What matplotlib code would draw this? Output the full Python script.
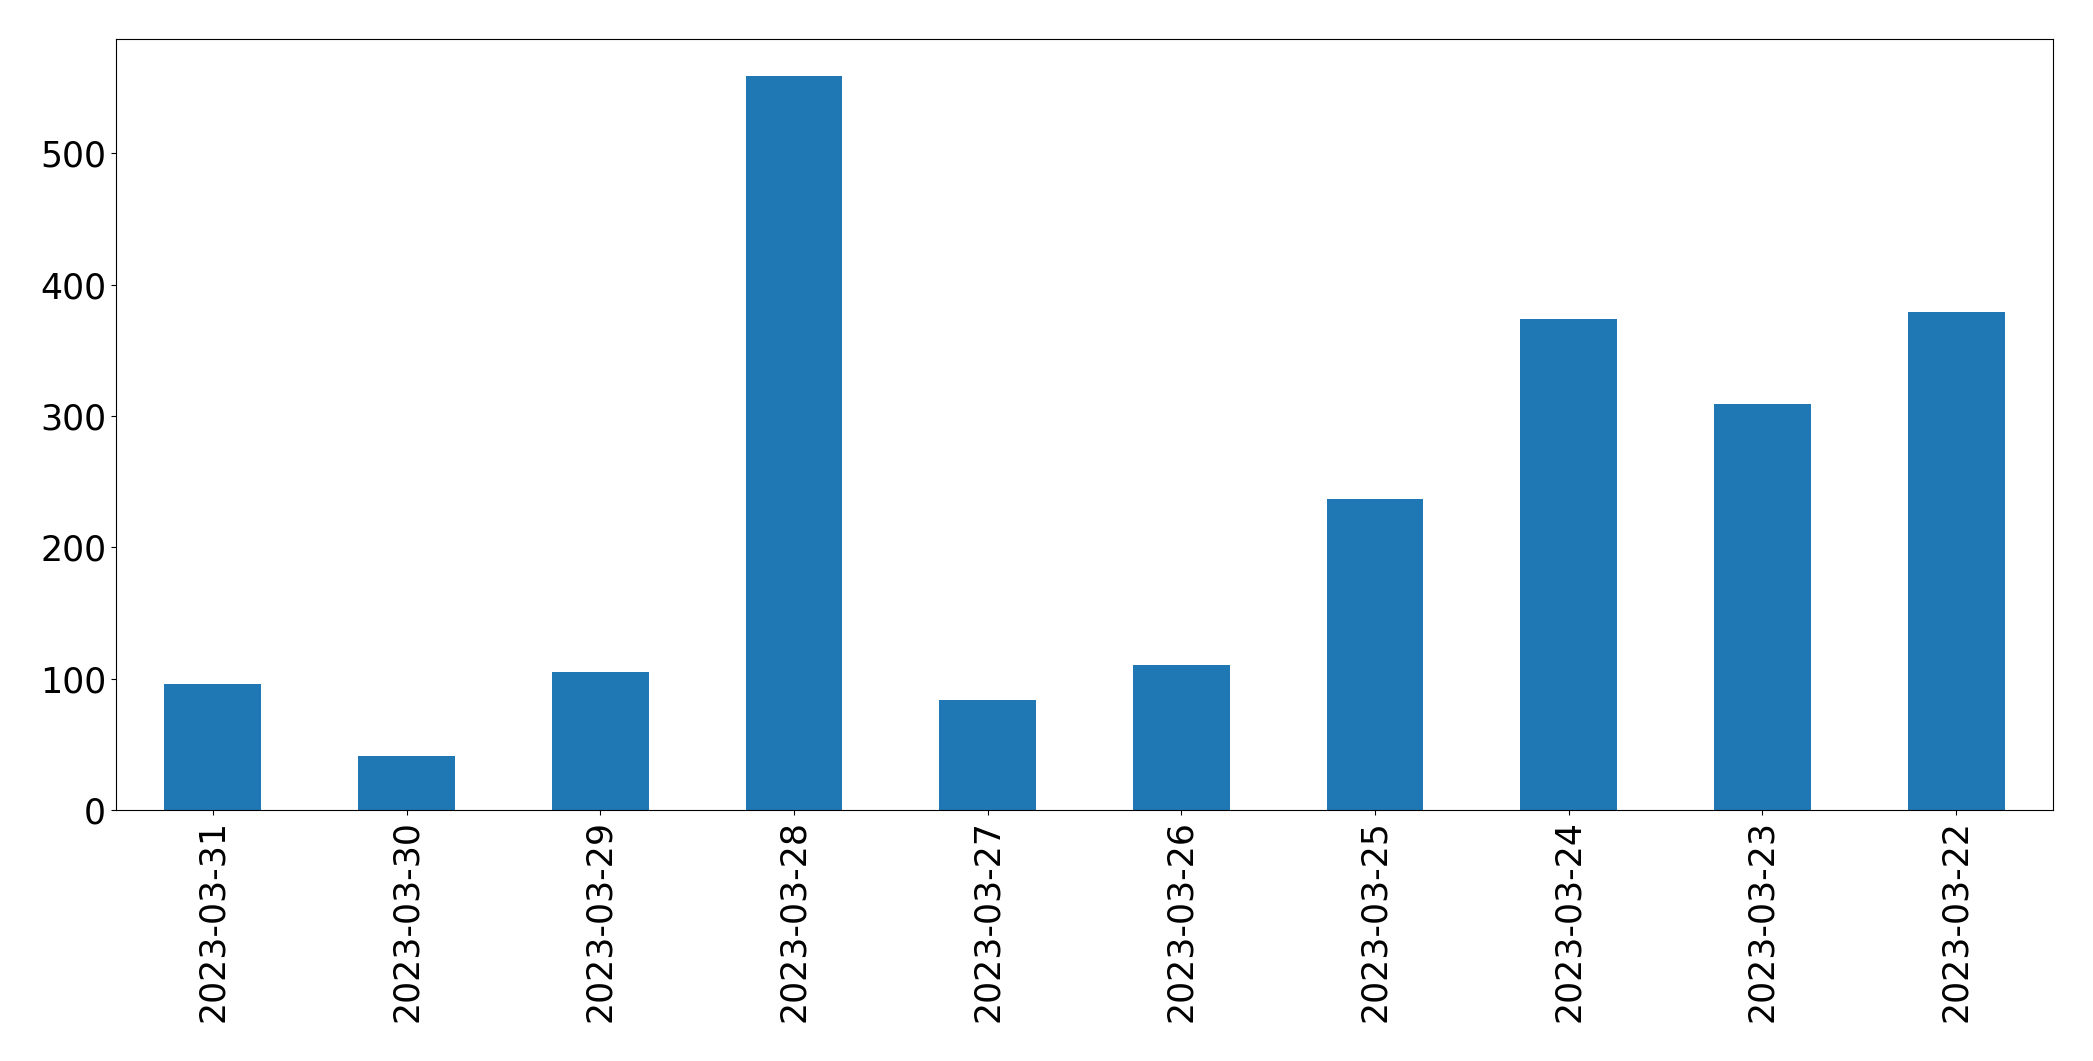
import matplotlib
matplotlib.use('Agg')
import matplotlib.pyplot as plt
import numpy as np

# Data
dates = ['2023-03-31', '2023-03-30', '2023-03-29', '2023-03-28', '2023-03-27',
         '2023-03-26', '2023-03-25', '2023-03-24', '2023-03-23', '2023-03-22']
counts = [96, 41, 105, 559, 84, 110, 237, 374, 309, 379]

fig = plt.figure(figsize=(20.93, 10.61), dpi=100)
ax = fig.add_axes([0.0554, 0.2366, 0.9255, 0.7266])

x = np.arange(len(dates))
ax.bar(x, counts, width=0.5, color='#1f77b4')
ax.set_xlim(-0.5, len(dates) - 0.5)
ax.set_xticks(x)
ax.set_xticklabels(dates, rotation=90)
ax.tick_params(axis='both', labelsize=25)

fig.savefig('out.png', dpi=100)
